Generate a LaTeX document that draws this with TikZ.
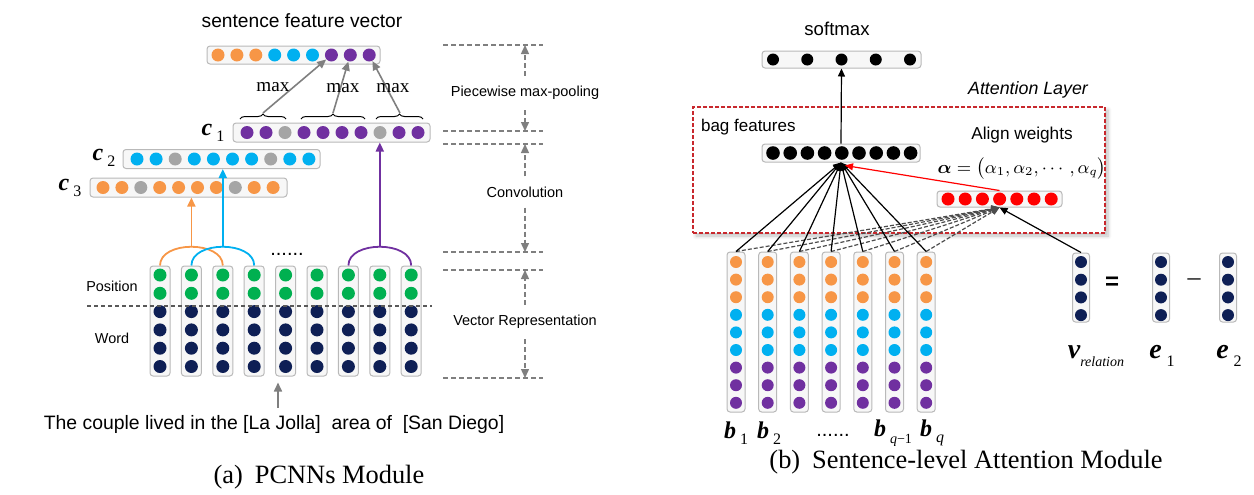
\documentclass[tikz,border=0pt]{standalone}
\usepackage{amsmath}
\usepackage{fontspec}
\setmainfont{Liberation Serif}
\setsansfont{Liberation Sans}
\usetikzlibrary{arrows.meta,positioning,calc,decorations.pathreplacing,shadows.blur}
\definecolor{orange6}{HTML}{F79646}
\definecolor{cyan6}{HTML}{00B0F0}
\definecolor{purple6}{HTML}{7030A0}
\definecolor{green6}{HTML}{00B050}
\definecolor{navy6}{HTML}{0E1F55}
\definecolor{gray6}{HTML}{A5A5A5}
\definecolor{arrowgray}{HTML}{7F7F7F}
\definecolor{darkred}{HTML}{C8282D}
\definecolor{red6}{HTML}{FF0000}
\newcommand{\vlab}[2]{{\bfseries\itshape #1}\,\raisebox{-0.6ex}{\fontsize{8}{9}\selectfont #2}}

\begin{document}
\begin{tikzpicture}
  [x=0.5pt, y=-0.5pt, font=\sffamily,
   vbox/.style={draw=gray!55, fill=gray!6, rounded corners=1.5pt, line width=0.5pt, inner sep=0pt},
   dot/.style={circle, inner sep=0pt, minimum size=6.5pt},
   sdot/.style={circle, inner sep=0pt, minimum size=6pt},
   garrow/.style={draw=arrowgray, line width=0.8pt, -{Triangle[length=4.5pt,width=4pt]}},
   guide/.style={draw=arrowgray, line width=0.7pt, dash pattern=on 2.5pt off 1.5pt},
   gdash/.style={guide, -{Triangle[length=4.5pt,width=4pt]}},
   karrow/.style={draw=black, line width=0.6pt, -{Triangle[length=4pt,width=3.5pt]}},
   kdash/.style={karrow, draw=black!70, dash pattern=on 2pt off 1pt},
   carc/.style={line width=0.9pt},
   ctip/.style={carc, -{Triangle[length=4.5pt,width=4pt]}},
   brace/.style={decorate, decoration={brace, amplitude=2.5pt}, line width=0.5pt},
   sep/.style={draw=gray!70!black, line width=0.6pt, dash pattern=on 2pt off 1.5pt},
   clab/.style={font=\rmfamily\fontsize{12}{13}\selectfont, inner sep=0pt},
   elab/.style={font=\rmfamily\fontsize{14}{15}\selectfont, inner sep=0pt},
   glab/.style={font=\sffamily\fontsize{7.25}{8}\selectfont, inner sep=5pt},
   mlab/.style={font=\rmfamily\fontsize{9.6}{11}\selectfont},
   captext/.style={font=\rmfamily\fontsize{13.2}{15}\selectfont},
   attn/.style={draw=darkred, line width=0.7pt, dash pattern=on 2pt off 1pt, fill=white,
     blur shadow={shadow xshift=1.5pt, shadow yshift=-1.5pt, shadow blur steps=6, shadow opacity=25}}]
  \useasboundingbox (0,0) rectangle (1254,494);

  %Sentence feature vector
  \node[font=\sffamily\fontsize{9.6}{11}\selectfont] (sfvlab) at (302,21) {sentence feature vector};
  \node[vbox, minimum width=86.5pt, minimum height=9pt] (sfv) at (293.5,55) {};
  \foreach \c [count=\i] in {orange6,orange6,orange6,cyan6,cyan6,cyan6,purple6,purple6,purple6}
    \node[dot, fill=\c] (sfv-\i) at ({218+(\i-1)*18.9},55) {};

  %Convolution outputs c1, c2, c3
  \node[vbox, minimum width=98.5pt, minimum height=9.5pt] (c1) at (331.5,132.5) {};
  \foreach \c [count=\i] in {purple6,purple6,gray6,purple6,purple6,purple6,purple6,gray6,purple6,purple6}
    \node[dot, fill=\c] (c1-\i) at ({247+(\i-1)*19},132.5) {};
  \node[vbox, minimum width=98.5pt, minimum height=9.5pt] (c2) at (221.5,159) {};
  \foreach \c [count=\i] in {cyan6,cyan6,gray6,cyan6,cyan6,cyan6,cyan6,gray6,cyan6,cyan6}
    \node[dot, fill=\c] (c2-\i) at ({137+(\i-1)*19.1},159) {};
  \node[vbox, minimum width=98.5pt, minimum height=9.5pt] (c3) at (188.5,187.5) {};
  \foreach \c [count=\i] in {orange6,orange6,gray6,orange6,orange6,orange6,orange6,gray6,orange6,orange6}
    \node[dot, fill=\c] (c3-\i) at ({103+(\i-1)*18.9},187.5) {};
  \node[clab] (c1lab) at (213,133) {\vlab{c}{1}};
  \node[clab] (c2lab) at (104,158) {\vlab{c}{2}};
  \node[clab] (c3lab) at (70,188) {\vlab{c}{3}};

  %Piecewise max-pooling
  \draw[brace] (240,119) -- (286,119);
  \draw[brace] (301,119) -- (365,119);
  \draw[brace] (376,119) -- (423,119);
  \coordinate (tp1) at (263,113);
  \coordinate (tp2) at (333,113);
  \coordinate (tp3) at (400,113);
  \draw[garrow] (tp1) -- (sfv-7);
  \draw[garrow] (tp2) -- (sfv-8);
  \draw[garrow] (tp3) -- (sfv-9);
  \node[mlab] (max1) at (273,87) {max};
  \node[mlab] (max2) at (343,88) {max};
  \node[mlab] (max3) at (393,88) {max};

  %Word and position columns
  \foreach \i in {1,...,9} {
    \node[vbox, minimum width=10pt, minimum height=55pt] (w\i) at ({160+(\i-1)*31.4},321) {};
    \foreach \j in {1,2}
      \node[dot, fill=green6] (w\i-\j) at ({160+(\i-1)*31.4},{275+(\j-1)*18.3}) {};
    \foreach \j in {3,...,6}
      \node[dot, fill=navy6] (w\i-\j) at ({160+(\i-1)*31.4},{275+(\j-1)*18.3}) {};
  }
  \draw[sep] (87,306) -- (432,306);
  \node[font=\sffamily\fontsize{7.2}{8}\selectfont] (poslab) at (112,286) {Position};
  \node[font=\sffamily\fontsize{7.2}{8}\selectfont] (wordlab) at (112,338) {Word};

  %Filters
  \coordinate (pk1) at (191.4,247);
  \coordinate (pk2) at (222.8,247);
  \coordinate (pk3) at (379.8,247);
  \draw[carc, orange6] (w1.north) .. controls +(0,-25) and +(0,-25) .. (w3.north);
  \draw[carc, cyan6] (w2.north) .. controls +(0,-25) and +(0,-25) .. (w4.north);
  \draw[carc, purple6] (w7.north) .. controls +(0,-25) and +(0,-25) .. (w9.north);
  \draw[ctip, orange6] (pk1) -- (pk1 |- c3.south);
  \draw[ctip, cyan6] (pk2) -- (pk2 |- c2.south);
  \draw[ctip, purple6] (pk3) -- (pk3 |- c1.south);
  \node[font=\sffamily\fontsize{10}{12}\selectfont, anchor=base] (wdots) at (287,255) {......};

  %Sentence
  \node[font=\sffamily\fontsize{9.7}{11}\selectfont] (sent) at (274,424)
    {The couple lived in the [La Jolla]\ \ area of\ \ [San Diego]};
  \coordinate (ax) at (278,0);
  \draw[garrow, shorten >=3pt] (sent.north -| ax) -- (w5.south -| ax);

  %Layer guides
  \foreach \y [count=\k] in {45,131,144,252,270,378} {
    \coordinate (g\k) at (443,\y);
    \draw[guide] (g\k) -- +(100,0);
  }
  \node[glab] (pool) at (525,93) {Piecewise max-pooling};
  \node[glab] (conv) at (525,192) {Convolution};
  \node[glab] (vrep) at (525,322) {Vector Representation};
  \draw[gdash] (pool.north) -- (pool.north |- g1);
  \draw[gdash] (pool.south) -- (pool.south |- g2);
  \draw[gdash] (conv.north) -- (conv.north |- g3);
  \draw[gdash] (conv.south) -- (conv.south |- g4);
  \draw[gdash] (vrep.north) -- (vrep.north |- g5);
  \draw[gdash] (vrep.south) -- (vrep.south |- g6);

  \node[captext] (capa) at (319,477) {(a)\hspace{0.45em}PCNNs Module};

  %Attention layer
  \node[attn, minimum width=206pt, minimum height=63pt, inner sep=0pt] (attn) at (899,170) {};
  \node[font=\sffamily\itshape\fontsize{8.9}{10}\selectfont] (attlab) at (1028,90) {Attention Layer};
  \node[font=\sffamily\fontsize{9.3}{11}\selectfont] (softlab) at (837,29) {softmax};
  \node[vbox, minimum width=79.5pt, minimum height=8.5pt] (soft) at (841.5,59.5) {};
  \foreach \i in {1,...,5}
    \node[sdot, fill=black] (soft-\i) at ({773+(\i-1)*34.25},59.5) {};
  \node[anchor=west, font=\sffamily\fontsize{8.5}{10}\selectfont] (baglab) at (694,127) {bag features};
  \node[vbox, minimum width=79pt, minimum height=9pt] (bag) at (841,153) {};
  \foreach \i in {1,...,9}
    \node[sdot, minimum size=6.8pt, fill=black] (bag-\i) at ({773+(\i-1)*17.2},153) {};
  \node[font=\sffamily\fontsize{8.6}{10}\selectfont] (alignlab) at (1022,135) {Align weights};
  \node[font=\fontsize{9}{11}\selectfont, inner sep=1pt] (alpha) at (1022,169)
    {$\boldsymbol{\alpha}=\bigl(\alpha_1,\alpha_2,\cdots,\alpha_q\bigr)$};
  \node[vbox, minimum width=62.5pt, minimum height=8pt] (red) at (999.5,199) {};
  \foreach \i in {1,...,7}
    \node[sdot, minimum size=6.5pt, fill=red6] (red-\i) at ({948+(\i-1)*17.2},199) {};
  \draw[karrow] (bag.north) -- (soft.south);

  %Sentence vectors b1..bq
  \foreach \k in {1,...,7} {
    \node[vbox, minimum width=9pt, minimum height=80pt] (b\k) at ({736+(\k-1)*31.7},332) {};
    \foreach \j/\c in {1/orange6,2/orange6,3/orange6,4/cyan6,5/cyan6,6/cyan6,7/purple6,8/purple6,9/purple6}
      \node[sdot, fill=\c] (b\k-\j) at ({736+(\k-1)*31.7},{262+(\j-1)*17.6}) {};
  }
  \foreach \k in {1,...,7}
    \draw[kdash] (b\k.north) -- (red.south);
  \foreach \k in {1,...,7}
    \draw[karrow] (b\k.north) -- (bag.south);
  \coordinate (bagr) at ($(bag.south)+(4,3)$);
  \draw[karrow, draw=red6] (red.north) -- (bagr);
  \node[clab] (b1lab) at (736,433) {\vlab{b}{1}};
  \node[clab] (b2lab) at (769,433) {\vlab{b}{2}};
  \node[font=\sffamily\fontsize{10}{12}\selectfont, anchor=base] (bdots) at (833,436) {......};
  \node[clab] (bq1lab) at (893,433) {{\bfseries\itshape b}\,\raisebox{-0.6ex}{\fontsize{7}{8}\selectfont\itshape q\upshape −1}};
  \node[clab] (bqlab) at (932,433) {\vlab{b}{\itshape q}};

  %Relation vector
  \foreach \n/\x in {vr/1081, ea/1161, eb/1228} {
    \node[vbox, minimum width=8.5pt, minimum height=34.5pt] (\n) at (\x,287.5) {};
    \foreach \j in {1,...,4}
      \node[sdot, fill=navy6] (\n-\j) at (\x,{262+(\j-1)*17.7}) {};
  }
  \draw[karrow] (vr.north) -- (red.south);
  \node[font=\sffamily\bfseries\fontsize{12}{14}\selectfont] (eqs) at (1112,283) {=};
  \node[font=\rmfamily\fontsize{13}{14}\selectfont] (minus) at (1194,282) {–};
  \node[elab] (vrlab) at (1096,356) {{\bfseries\itshape v}\raisebox{-0.6ex}{\fontsize{7}{8}\selectfont\itshape relation}};
  \node[elab] (ealab) at (1162,356) {\vlab{e}{1}};
  \node[elab] (eblab) at (1229,356) {\vlab{e}{2}};

  \node[captext] (capb) at (966,462) {(b)\hspace{0.45em}Sentence-level Attention Module};
\end{tikzpicture}
\end{document}
